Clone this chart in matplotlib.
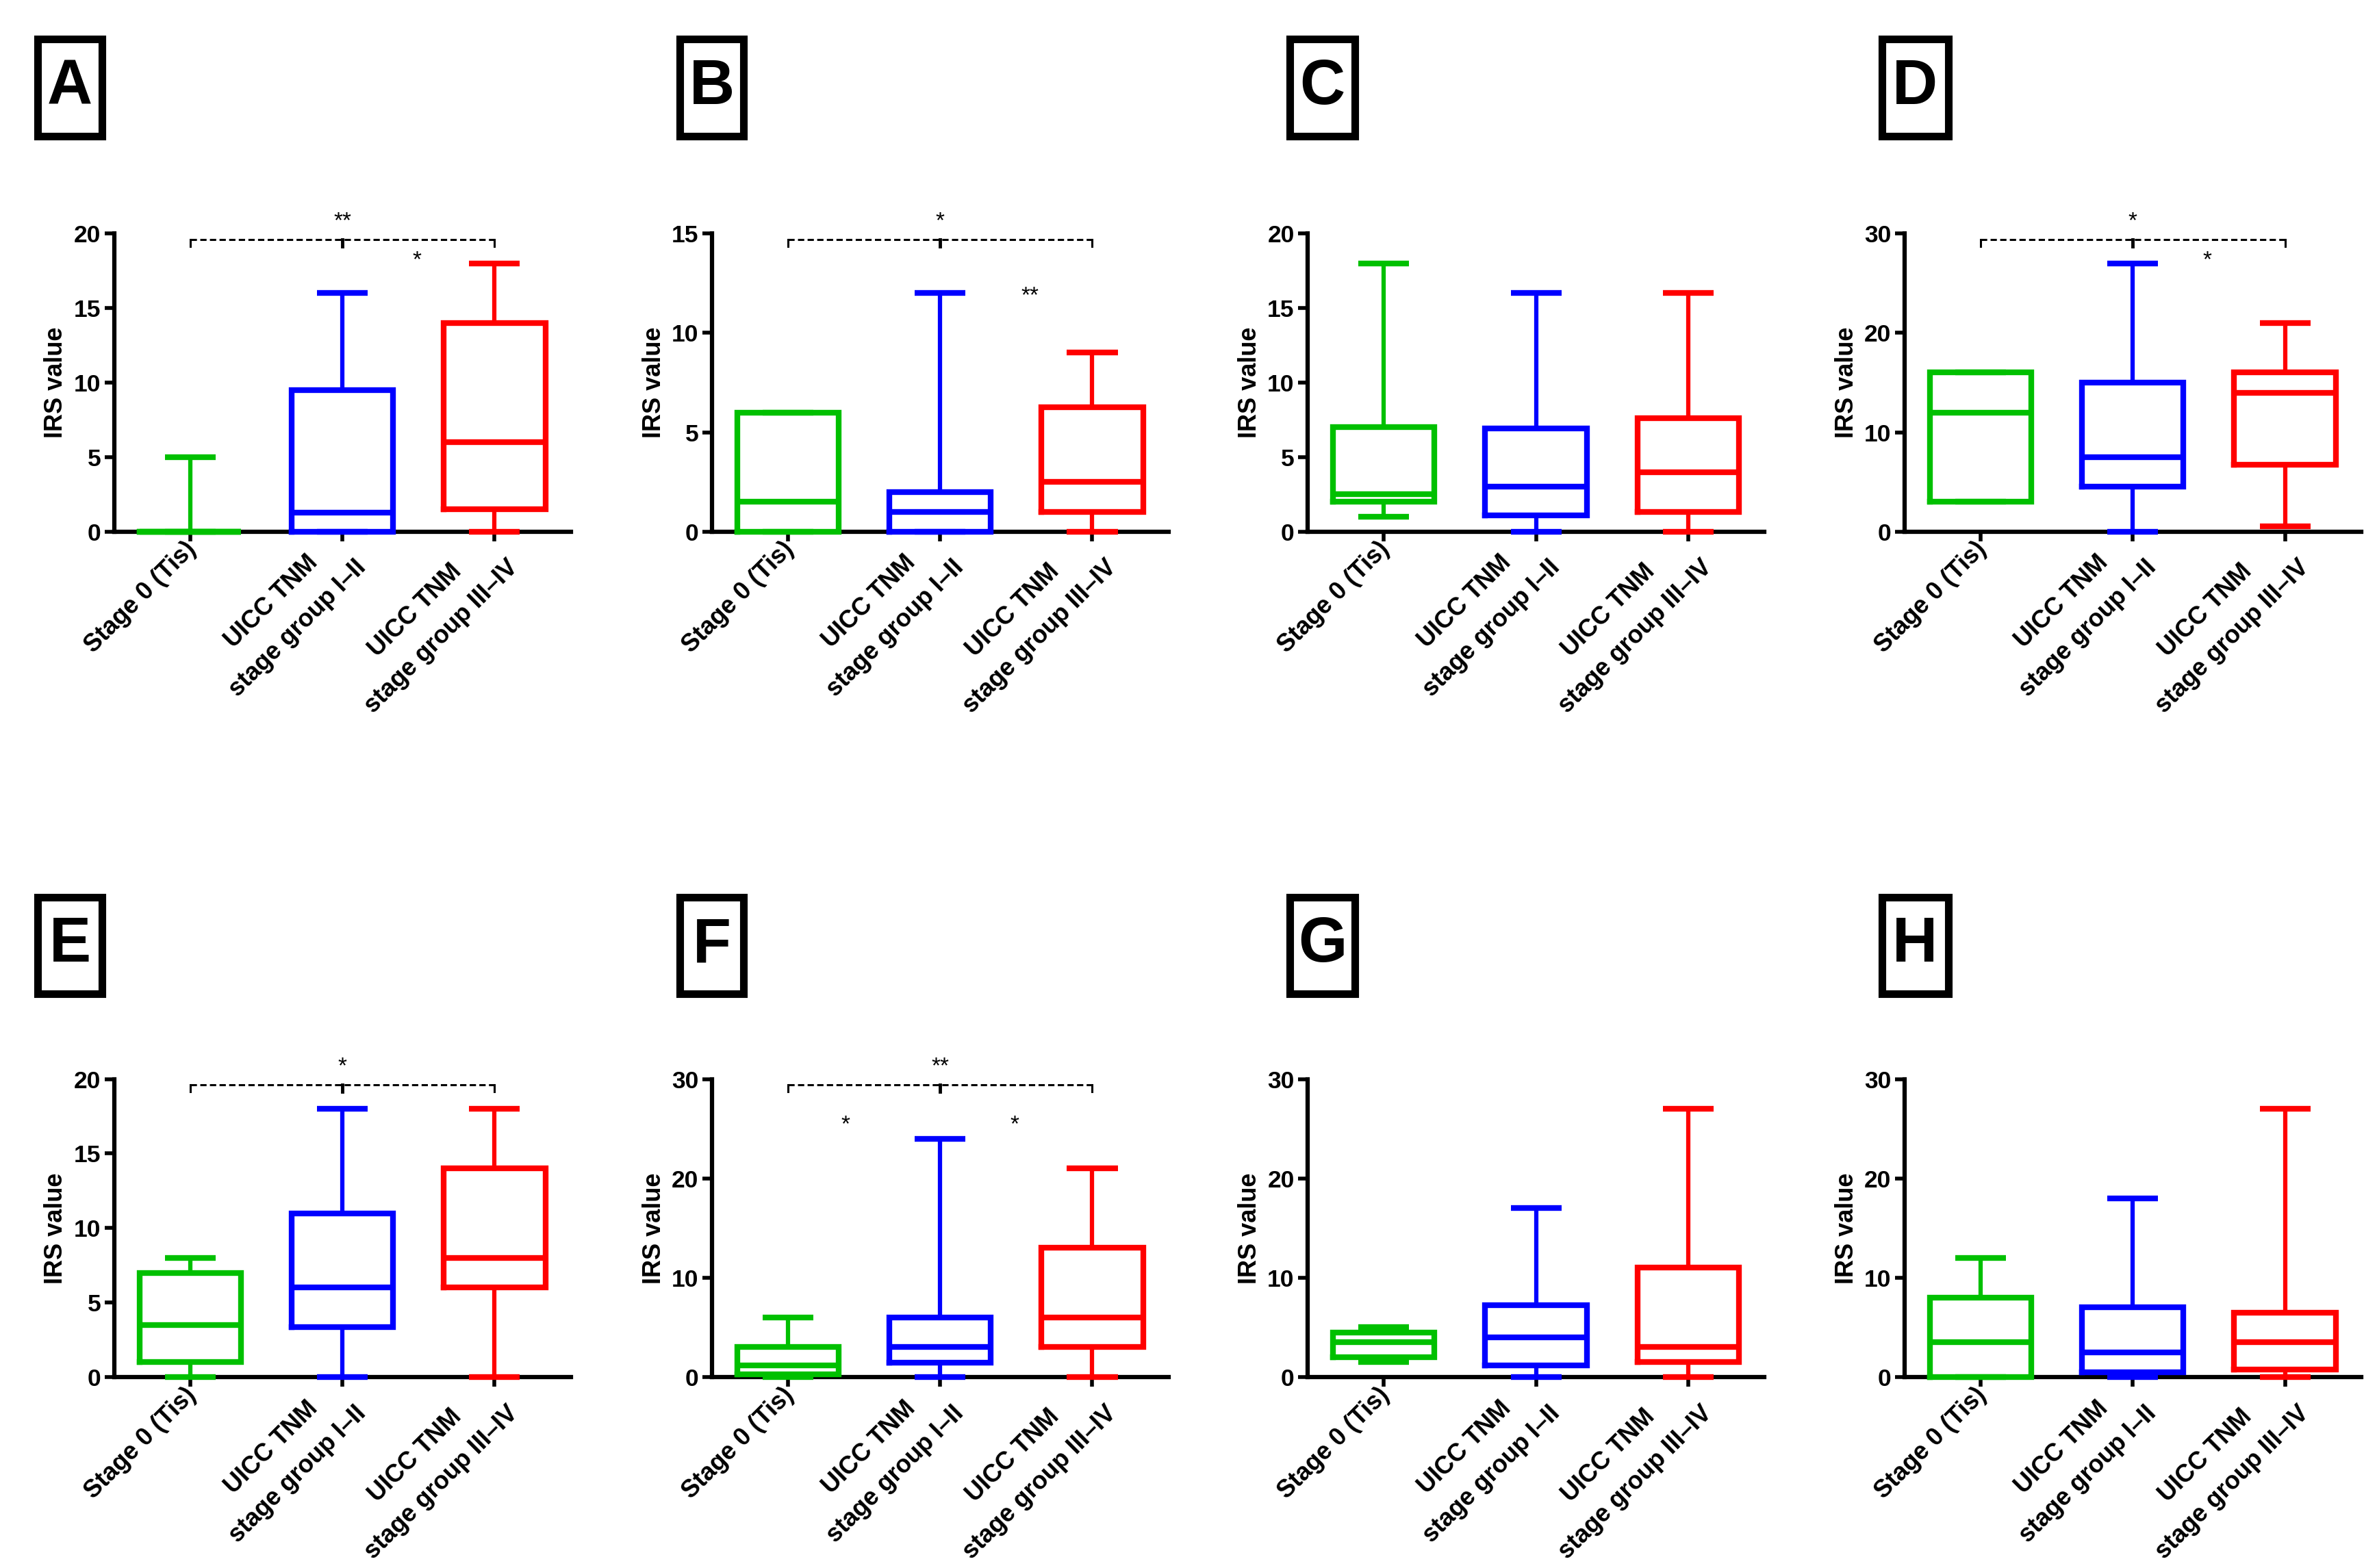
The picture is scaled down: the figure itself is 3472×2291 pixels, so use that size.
import matplotlib
matplotlib.use("Agg")
import matplotlib.pyplot as plt
from matplotlib.patches import Rectangle
from matplotlib.transforms import ScaledTranslation

# ---------------- data ----------------
panel_letters = ["A", "B", "C", "D", "E", "F", "G", "H"]
categories = ["Stage 0 (Tis)", "UICC TNM\nstage group I\u2013II", "UICC TNM\nstage group III\u2013IV"]
colors = ["#00C000", "#0000FF", "#FF0000"]

# per panel: [Stage 0, I-II, III-IV]
whisker_low = [[0, 0, 0], [0, 0, 0], [1, 0, 0], [3, 0, 0.5],
               [0, 0, 0], [0, 0, 0], [1.5, 0, 0], [0, 0, 0]]
quartile1 = [[0, 0, 1.5], [0, 0, 1], [2, 1.1, 1.3], [3, 4.5, 6.75],
             [1, 3.35, 6], [0.3, 1.45, 3], [2, 1.2, 1.5], [0, 0.45, 0.75]]
median = [[0, 1.25, 6], [1.5, 1, 2.5], [2.5, 3, 4], [12, 7.5, 14],
          [3.5, 6, 8], [1.15, 3, 6], [3.5, 4, 3], [3.5, 2.5, 3.5]]
quartile3 = [[0, 9.5, 14], [6, 2, 6.25], [7, 6.9, 7.6], [16, 15, 16],
             [7, 11, 14], [3, 6, 13], [4.5, 7.2, 11], [8, 7, 6.5]]
whisker_high = [[5, 16, 18], [6, 12, 9], [18, 16, 16], [16, 27, 21],
                [8, 18, 18], [6, 24, 21], [5, 17, 27], [12, 18, 27]]
y_max = [20, 15, 20, 30, 20, 30, 30, 30]
y_step = [5, 5, 5, 10, 5, 10, 10, 10]

# significance: bracket Stage0 -> III-IV (label above middle), plus single labels
bracket_label = ["**", "*", None, "*", "*", "**", None, None]
extra_labels = [[(1.49, 18.2, "*")], [(1.59, 11.85, "**")], [], [(1.49, 27.3, "*")],
                [], [(0.38, 25.4, "*"), (1.49, 25.4, "*")], [], []]

# ---------------- layout ----------------
W, H = 3473, 2291
DPI = 100
fig = plt.figure(figsize=(W / DPI, H / DPI), dpi=DPI)
plt.rcParams["font.family"] = ["Liberation Sans", "DejaVu Sans"]

ax_left = [0.048, 0.2994, 0.550, 0.801]
ax_bottom = [0.661, 0.1218]
ax_w, ax_h = 0.192, 0.19
box_left = [55.5 / W, 993.5 / W, 1883.5 / W, 2748.5 / W]
box_wid = [93 / W, 93 / W, 96 / W, 97 / W]
box_bottom = [(H - 198.5) / H, (H - 1451.5) / H]
box_h = 141 / H

FS = 26
for i, letter in enumerate(panel_letters):
    col, row = i % 4, i // 4
    ax = fig.add_axes([ax_left[col], ax_bottom[row], ax_w, ax_h])
    stats = []
    for k in range(3):
        stats.append(dict(whislo=whisker_low[i][k], q1=quartile1[i][k], med=median[i][k],
                          q3=quartile3[i][k], whishi=whisker_high[i][k], fliers=[]))
    bp = ax.bxp(stats, positions=[0, 1, 2], widths=0.667, capwidths=0.333,
                showfliers=False, patch_artist=False)
    for k in range(3):
        c = colors[k]
        for art in [bp["boxes"][k], bp["medians"][k]]:
            art.set_color(c); art.set_linewidth(6); art.set_clip_on(False); art.set_zorder(4)
            art.set_solid_joinstyle("miter")
        for art in bp["whiskers"][2 * k:2 * k + 2]:
            art.set_color(c); art.set_linewidth(4.5); art.set_clip_on(False); art.set_zorder(3)
        for art in bp["caps"][2 * k:2 * k + 2]:
            art.set_color(c); art.set_linewidth(6); art.set_clip_on(False); art.set_zorder(4)
            art.set_solid_capstyle("butt")

    ym = y_max[i]
    ax.set_xlim(-0.5, 2.5)
    ax.set_ylim(0, ym)
    ax.set_yticks(list(range(0, ym + 1, y_step[i])))
    ax.set_xticks([0, 1, 2])
    ax.set_xticklabels(categories, rotation=45, ha="right", va="center_baseline",
                       rotation_mode="anchor", multialignment="center",
                       fontsize=FS, fontweight="bold", linespacing=1.75)
    xl = ax.get_xticklabels()
    xl[0].set_transform(xl[0].get_transform() + ScaledTranslation(-9 / DPI, -9 / DPI, fig.dpi_scale_trans))
    for lab in ax.get_yticklabels():
        lab.set_fontsize(FS - 0.5); lab.set_fontweight("bold")
    ax.tick_params(axis="both", width=4, length=10, color="black", pad=4)
    ax.tick_params(axis="x", pad=3)
    for s in ["top", "right"]:
        ax.spines[s].set_visible(False)
    for s in ["left", "bottom"]:
        ax.spines[s].set_linewidth(4.5)
        ax.spines[s].set_zorder(2)
    ax.set_ylabel("IRS value", fontsize=FS, fontweight="bold", labelpad=6)
    ax.patch.set_visible(False)

    # significance bracket
    if bracket_label[i] is not None:
        yb = ym * 0.98
        drop = ym * 0.022
        ax.plot([0, 2], [yb, yb], color="black", lw=2.2, linestyle=(0, (3, 1.6)),
                clip_on=False, zorder=5)
        for xk in [0, 1, 2]:
            ax.plot([xk, xk], [yb, yb - drop], color="black",
                    lw=2.2 if xk != 1 else 3.5, clip_on=False, zorder=5)
        ax.text(1, ym * 1.04, bracket_label[i], ha="center", va="center",
                fontsize=24, clip_on=False)
    for (xt, yt, t) in extra_labels[i]:
        ax.text(xt, yt, t, ha="center", va="center", fontsize=24, clip_on=False)

    # panel letter box
    fig.patches.append(Rectangle((box_left[col], box_bottom[row]), box_wid[col], box_h,
                                 transform=fig.transFigure, fill=False,
                                 edgecolor="black", linewidth=8, joinstyle="miter"))
    fig.text(box_left[col] + box_wid[col] / 2, box_bottom[row] + box_h / 2, letter,
             ha="center", va="center", fontsize=66, fontweight="bold")

fig.savefig("out.png", dpi=DPI, facecolor="white")
